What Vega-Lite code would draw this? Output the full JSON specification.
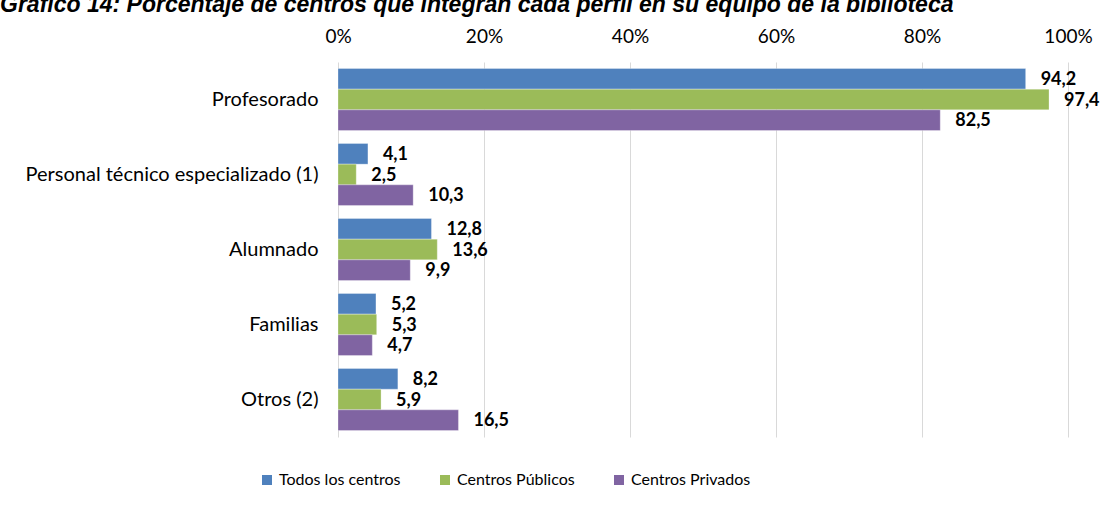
{
  "$schema": "https://vega.github.io/schema/vega-lite/v6.json",
  "width": 730,
  "height": 375,
  "autosize": {"type": "none"},
  "padding": {"left": 338, "top": 62, "right": 33, "bottom": 90},
  "background": "white",
  "config": {
    "view": {"stroke": null},
    "locale": {"number": {"decimal": ",", "thousands": ".", "grouping": [3], "currency": ["", " €"]}}
  },
  "title": {
    "text": "Gráfico 14: Porcentaje de centros que integran cada perfil en su equipo de la biblioteca",
    "anchor": "start",
    "frame": "group",
    "dx": -338,
    "offset": 10,
    "font": "Liberation Sans",
    "fontSize": 23,
    "fontStyle": "italic",
    "fontWeight": "bold",
    "color": "black"
  },
  "data": {
    "values": [
      {"perfil": "Profesorado", "serie": "Todos los centros", "valor": 94.2},
      {"perfil": "Profesorado", "serie": "Centros Públicos", "valor": 97.4},
      {"perfil": "Profesorado", "serie": "Centros Privados", "valor": 82.5},
      {"perfil": "Personal técnico especializado (1)", "serie": "Todos los centros", "valor": 4.1},
      {"perfil": "Personal técnico especializado (1)", "serie": "Centros Públicos", "valor": 2.5},
      {"perfil": "Personal técnico especializado (1)", "serie": "Centros Privados", "valor": 10.3},
      {"perfil": "Alumnado", "serie": "Todos los centros", "valor": 12.8},
      {"perfil": "Alumnado", "serie": "Centros Públicos", "valor": 13.6},
      {"perfil": "Alumnado", "serie": "Centros Privados", "valor": 9.9},
      {"perfil": "Familias", "serie": "Todos los centros", "valor": 5.2},
      {"perfil": "Familias", "serie": "Centros Públicos", "valor": 5.3},
      {"perfil": "Familias", "serie": "Centros Privados", "valor": 4.7},
      {"perfil": "Otros (2)", "serie": "Todos los centros", "valor": 8.2},
      {"perfil": "Otros (2)", "serie": "Centros Públicos", "valor": 5.9},
      {"perfil": "Otros (2)", "serie": "Centros Privados", "valor": 16.5}
    ]
  },
  "encoding": {
    "y": {
      "field": "perfil",
      "type": "nominal",
      "sort": ["Profesorado", "Personal técnico especializado (1)", "Alumnado", "Familias", "Otros (2)"],
      "scale": {"paddingInner": 0.173, "paddingOuter": 0.0865},
      "axis": {
        "title": null,
        "domain": false,
        "ticks": false,
        "labelPadding": 20,
        "labelLimit": 400,
        "labelFont": "Lato",
        "labelFontSize": 20,
        "labelColor": "black"
      }
    },
    "yOffset": {
      "field": "serie",
      "type": "nominal",
      "sort": ["Todos los centros", "Centros Públicos", "Centros Privados"],
      "scale": {"paddingInner": 0, "paddingOuter": 0}
    },
    "x": {
      "field": "valor",
      "type": "quantitative",
      "scale": {"domain": [0, 100], "nice": false},
      "axis": {
        "orient": "top",
        "title": null,
        "values": [0, 20, 40, 60, 80, 100],
        "labelExpr": "datum.value + '%'",
        "labelFlush": false,
        "domain": false,
        "ticks": false,
        "grid": true,
        "gridColor": "#d9d9d9",
        "gridWidth": 1,
        "labelPadding": 16,
        "labelFont": "Lato",
        "labelFontSize": 19,
        "labelColor": "black"
      }
    }
  },
  "layer": [
    {
      "mark": {"type": "bar", "stroke": "white", "strokeOpacity": 0.5, "strokeWidth": 0.6},
      "encoding": {
        "color": {
          "field": "serie",
          "type": "nominal",
          "sort": ["Todos los centros", "Centros Públicos", "Centros Privados"],
          "scale": {"domain": ["Todos los centros", "Centros Públicos", "Centros Privados"], "range": ["#4F81BD", "#9BBB59", "#8064A2"]},
          "legend": {
            "title": null,
            "orient": "none",
            "direction": "horizontal",
            "legendX": -79,
            "legendY": 410,
            "symbolType": "square",
            "symbolSize": 100,
            "symbolStrokeWidth": 0,
            "symbolOpacity": 1,
            "labelFont": "Lato",
            "labelFontSize": 16,
            "labelColor": "black",
            "labelOffset": 4,
            "columnPadding": 36
          }
        }
      }
    },
    {
      "mark": {"type": "text", "align": "left", "baseline": "middle", "dx": 15, "dy": 1, "font": "Lato", "fontSize": 18, "fontWeight": "bold", "color": "black"},
      "encoding": {
        "text": {"field": "valor", "type": "quantitative", "format": ".1f"}
      }
    }
  ]
}
